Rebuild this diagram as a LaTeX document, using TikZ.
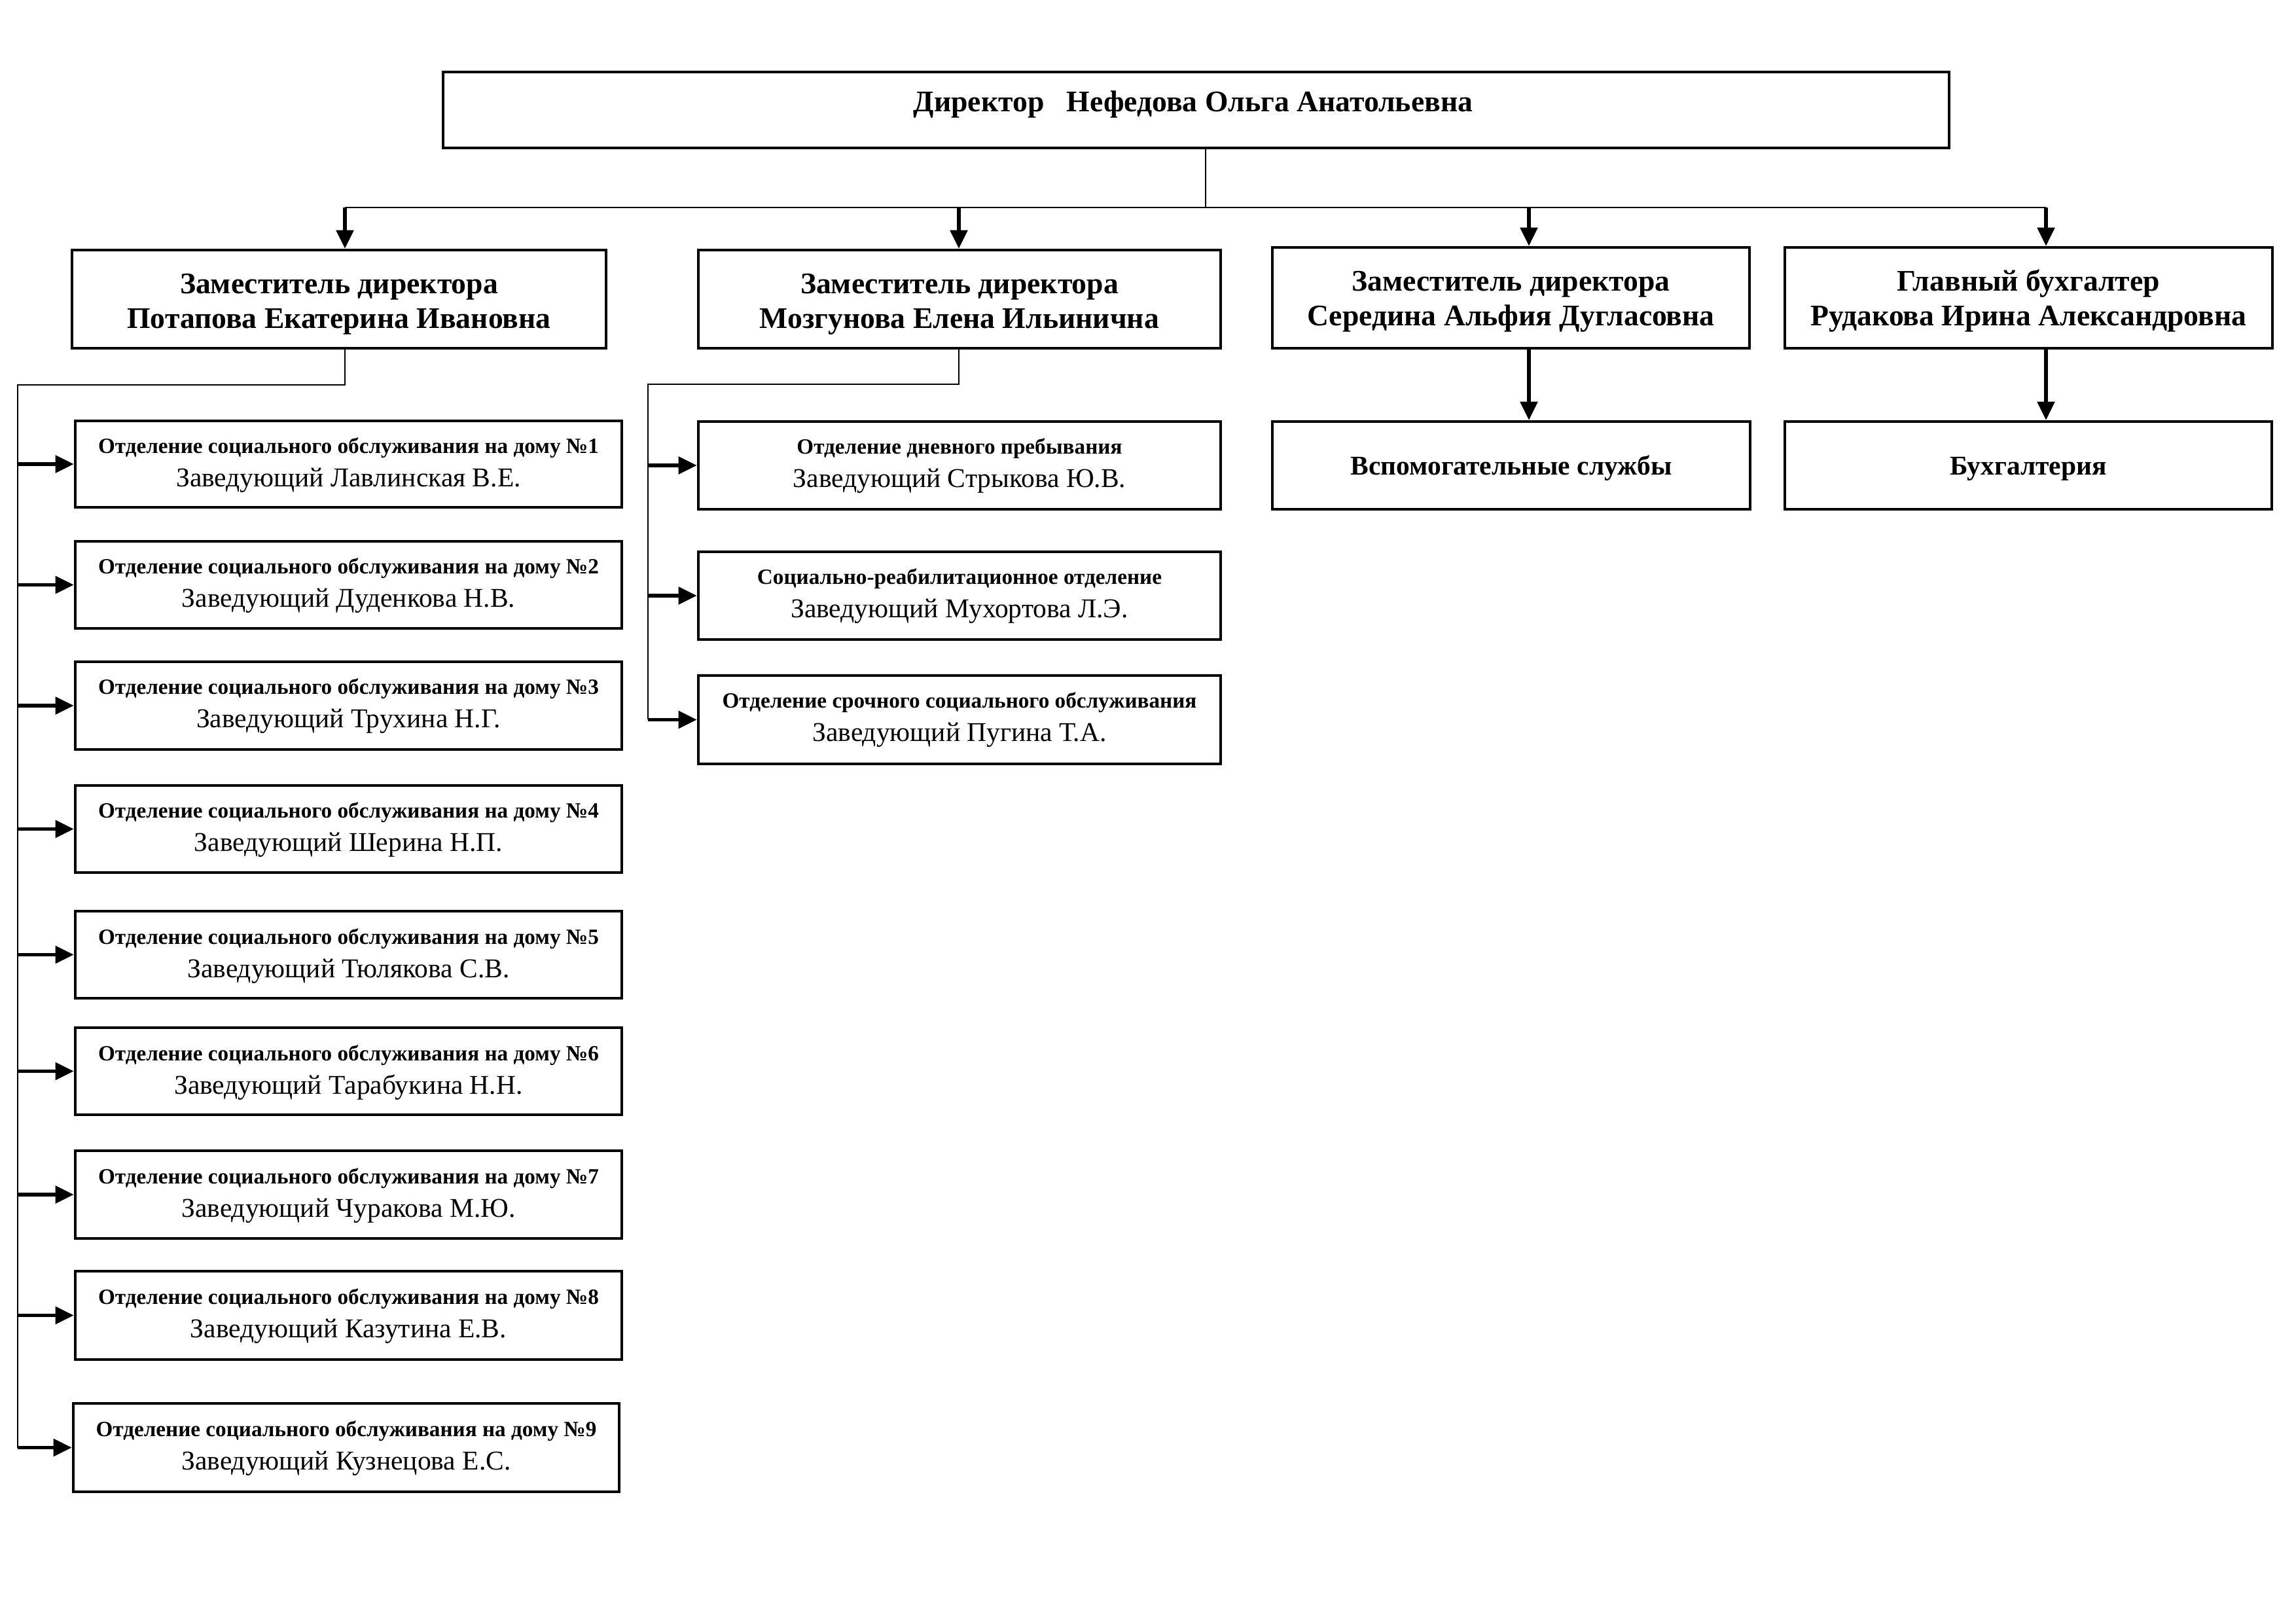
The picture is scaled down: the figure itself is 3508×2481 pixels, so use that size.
\documentclass[tikz,border=0pt]{standalone}
\usepackage{fontspec}
\setmainfont{Liberation Serif}
\usetikzlibrary{arrows.meta}
\newlength\pxu \setlength\pxu{0.084667mm}
\tikzset{
  obox/.style={draw, line width=1pt, rectangle, inner sep=0pt},
  dirf/.style={inner sep=0pt, font=\fontsize{11}{13}\selectfont\bfseries},
  depf/.style={inner sep=0pt, font=\fontsize{11}{13}\selectfont\bfseries},
  unitf/.style={inner sep=0pt, font=\fontsize{8}{10}\selectfont\bfseries},
  namef/.style={inner sep=0pt, font=\fontsize{10}{12}\selectfont},
  servf/.style={inner sep=0pt, font=\fontsize{10}{12}\selectfont\bfseries},
  thin/.style={line width=0.6pt},
  arr/.style={line width=1.4pt, -{Triangle[length=2.4mm,width=2.2mm]}},
}
\newcommand{\orgbox}[5]{%
  \node[obox, minimum width={(#4-#2)*\pxu}, minimum height={(#5-#3)*\pxu}] (#1) at ({(#2+#4)/2},{(#3+#5)/2}) {};}
\newcommand{\unitbox}[7]{%
  \orgbox{#1}{#2}{#3}{#4}{#5}
  \node[unitf, anchor=base] (#1-a) at ({(#2+#4)/2},{#3+50}) {#6};
  \node[namef, anchor=base] (#1-b) at ({(#2+#4)/2},{#3+101}) {#7};}
\newcommand{\depbox}[7]{%
  \orgbox{#1}{#2}{#3}{#4}{#5}
  \node[depf, anchor=base] (#1-a) at ({(#2+#4)/2},{#3+67}) {#6};
  \node[depf, anchor=base] (#1-b) at ({(#2+#4)/2},{#3+120}) {#7};}
\begin{document}
\begin{tikzpicture}[x=\pxu, y=-\pxu]
\useasboundingbox (0,0) rectangle (3508,2481);
\fill[white] (0,0) rectangle (3508,2481);
% director
\orgbox{dir}{677}{110}{2978}{226}
\node[dirf, anchor=base] (dir-t) at (1823,171) {Директор\ \ \ Нефедова Ольга Анатольевна};
% deputies
\depbox{d1}{110}{382}{926}{532}{Заместитель директора}{Потапова Екатерина Ивановна}
\depbox{d2}{1067}{382}{1865}{532}{Заместитель директора}{Мозгунова Елена Ильинична}
\depbox{d3}{1944}{378}{2673}{532}{Заместитель директора}{Середина Альфия Дугласовна}
\depbox{d4}{2727}{378}{3472}{532}{Главный бухгалтер}{Рудакова Ирина Александровна}
% services
\orgbox{aux}{1944}{644}{2674}{778}
\node[servf, anchor=base] (aux-t) at (2309,726) {Вспомогательные службы};
\orgbox{acc}{2727}{644}{3471}{778}
\node[servf, anchor=base] (acc-t) at (3099,726) {Бухгалтерия};
% second column
\unitbox{c1}{1067}{644}{1865}{778}{Отделение дневного пребывания}{Заведующий Стрыкова Ю.В.}
\unitbox{c2}{1067}{843}{1865}{977}{Социально-реабилитационное отделение}{Заведующий Мухортова Л.Э.}
\unitbox{c3}{1067}{1032}{1865}{1167}{Отделение срочного социального обслуживания}{Заведующий Пугина Т.А.}
% first column
\unitbox{l1}{115}{643}{950}{775}{Отделение социального обслуживания на дому №1}{Заведующий Лавлинская В.Е.}
\unitbox{l2}{115}{827}{950}{960}{Отделение социального обслуживания на дому №2}{Заведующий Дуденкова Н.В.}
\unitbox{l3}{115}{1011}{950}{1145}{Отделение социального обслуживания на дому №3}{Заведующий Трухина Н.Г.}
\unitbox{l4}{115}{1200}{950}{1333}{Отделение социального обслуживания на дому №4}{Заведующий Шерина Н.П.}
\unitbox{l5}{115}{1392}{950}{1525}{Отделение социального обслуживания на дому №5}{Заведующий Тюлякова С.В.}
\unitbox{l6}{115}{1570}{950}{1703}{Отделение социального обслуживания на дому №6}{Заведующий Тарабукина Н.Н.}
\unitbox{l7}{115}{1758}{950}{1892}{Отделение социального обслуживания на дому №7}{Заведующий Чуракова М.Ю.}
\unitbox{l8}{115}{1942}{950}{2077}{Отделение социального обслуживания на дому №8}{Заведующий Казутина Е.В.}
\unitbox{l9}{112}{2144}{946}{2279}{Отделение социального обслуживания на дому №9}{Заведующий Кузнецова Е.С.}
% connectors
\coordinate (jn) at (1842,317);
\coordinate (b1) at (527,317);
\coordinate (b2) at (1465,317);
\coordinate (b3) at (2336,317);
\coordinate (b4) at (3126,317);
\draw[thin] (jn |- dir.south) -- (jn);
\draw[thin] (b1) -- (b4);
\foreach \b/\d in {b1/d1,b2/d2,b3/d3,b4/d4} \draw[arr] (\b) -- (\b |- \d.north);
\draw[arr] (b3 |- d3.south) -- (b3 |- aux.north);
\draw[arr] (b4 |- d4.south) -- (b4 |- acc.north);
\coordinate (t1) at (27,588);
\draw[thin] (b1 |- d1.south) -- (b1 |- t1) -- (t1) -- (t1 |- l9.west);
\foreach \n in {l1,l2,l3,l4,l5,l6,l7,l8,l9} \draw[arr] (t1 |- \n.west) -- (\n.west);
\coordinate (t2) at (990,587);
\draw[thin] (b2 |- d2.south) -- (b2 |- t2) -- (t2) -- (t2 |- c3.west);
\foreach \n in {c1,c2,c3} \draw[arr] (t2 |- \n.west) -- (\n.west);
\end{tikzpicture}
\end{document}
